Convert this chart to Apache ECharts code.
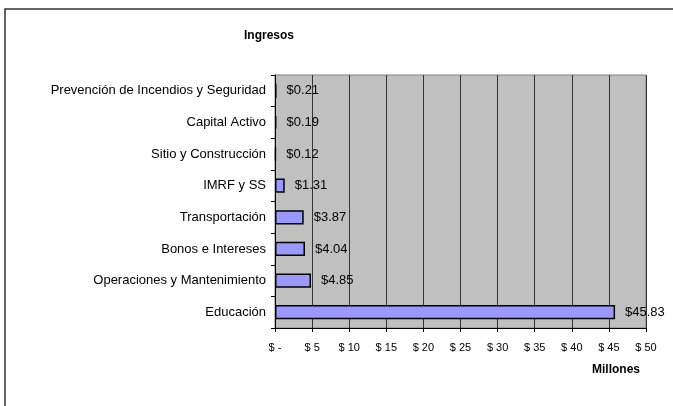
<!DOCTYPE html>
<html lang="es">
<head>
    <meta charset="UTF-8">
    <title>Ingresos</title>
    <script src="https://cdn.jsdelivr.net/npm/echarts@6.0.0/dist/echarts.min.js"></script>
    <style>
        body { margin: 0; background: #fff; }
        #main { width: 673px; height: 406px; }
    </style>
</head>
<body>
    <div id="main"></div>
    <script>
        // categorias de arriba hacia abajo
        const categories = [
            'Prevención de Incendios y Seguridad',
            'Capital Activo',
            'Sitio y Construcción',
            'IMRF y SS',
            'Transportación',
            'Bonos e Intereses',
            'Operaciones y Mantenimiento',
            'Educación'
        ];
        const ingresos = [0.21, 0.19, 0.12, 1.31, 3.87, 4.04, 4.85, 45.83];

        const xMin = 0, xMax = 50, xStep = 5;

        let myChart = echarts.init(document.getElementById('main'));

        let option = {
            animation: false,
            textStyle: { fontFamily: 'Liberation Sans, Arial, sans-serif' },
            title: {
                text: 'Ingresos',
                left: 239,
                top: 25,
                textStyle: { fontSize: 12, fontWeight: 'bold', color: '#000' }
            },
            graphic: [
                {
                    type: 'rect',
                    shape: { x: 5, y: 9, width: 720, height: 440 },
                    style: { fill: 'none', stroke: '#333', lineWidth: 1.5 },
                    silent: true
                },
                {
                    type: 'text',
                    right: 33,
                    top: 364,
                    style: { text: 'Millones', font: 'bold 12px Liberation Sans, Arial, sans-serif', fill: '#000' }
                }
            ],
            grid: {
                left: 275,
                right: 27,
                top: 75,
                bottom: 78,
                show: true,
                backgroundColor: '#C0C0C0',
                borderColor: '#808080',
                borderWidth: 1
            },
            xAxis: {
                type: 'value',
                min: xMin,
                max: xMax,
                interval: xStep,
                axisLine: { show: true, lineStyle: { color: '#000', width: 1 } },
                axisTick: { show: true, length: 4, lineStyle: { color: '#000' } },
                axisLabel: {
                    color: '#000',
                    fontSize: 11,
                    margin: 14,
                    formatter: v => v === 0 ? '$ -' : '$ ' + v
                },
                splitLine: { show: true, lineStyle: { color: '#333', width: 1 } }
            },
            yAxis: {
                type: 'category',
                data: categories,
                inverse: true,
                axisLine: { show: true, lineStyle: { color: '#000', width: 1 } },
                axisTick: { show: true, length: 4, lineStyle: { color: '#000' } },
                axisLabel: { color: '#000', fontSize: 13, margin: 9 },
                splitLine: { show: false }
            },
            series: [
                {
                    type: 'bar',
                    data: ingresos,
                    barWidth: '45%',
                    itemStyle: { color: '#9999FF', borderColor: '#000', borderWidth: 1.5 },
                    label: {
                        show: true,
                        position: 'right',
                        distance: 10,
                        color: '#000',
                        fontSize: 13,
                        formatter: p => '$' + p.value.toFixed(2)
                    }
                }
            ]
        };

        myChart.setOption(option);
    </script>
</body>
</html>
